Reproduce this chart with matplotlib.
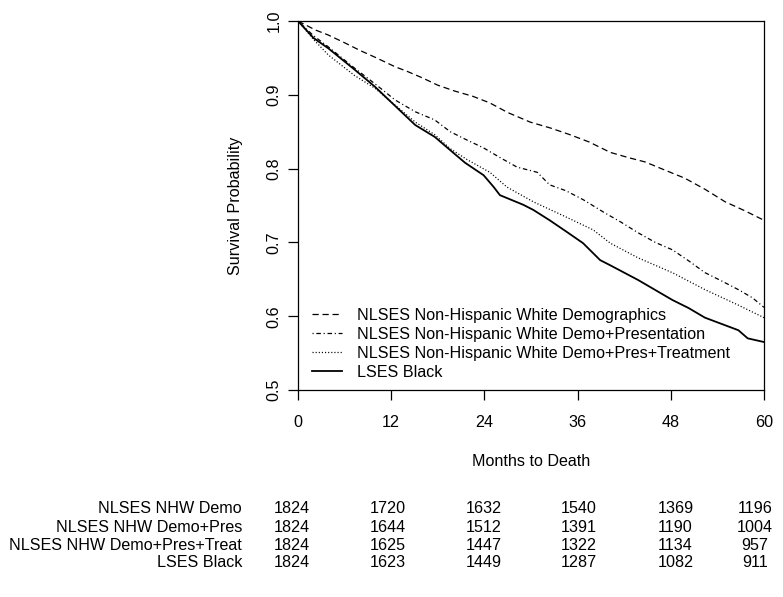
import numpy as np
import matplotlib
matplotlib.use("Agg")
import matplotlib.pyplot as plt

plt.rcParams['font.family'] = ['Liberation Sans', 'DejaVu Sans']

# survival curves (months, probability)
t_demo = [0, 2.2, 3.9, 6.1, 8, 9.9, 12.5, 14, 16, 18, 20.2, 22.5, 24.7, 27, 29.9,
          32.5, 35, 37.5, 40.2, 42.5, 44.7, 47, 49.8, 52.4, 55, 57.5, 60]
s_demo = [1.0, 0.988, 0.981, 0.970, 0.960, 0.951, 0.938, 0.932, 0.923, 0.913, 0.905,
          0.898, 0.889, 0.876, 0.863, 0.855, 0.846, 0.836, 0.822, 0.815, 0.809, 0.799,
          0.787, 0.772, 0.755, 0.743, 0.730]

t_pres = [0, 2, 3.9, 7.3, 9.9, 12.5, 15.1, 17.6, 19.6, 21.5, 23.9, 26, 28.2, 30.8,
          32.4, 34.5, 36.7, 39.5, 41.5, 43.8, 46, 48.2, 50.3, 52.4, 54.5, 56.7, 58.5, 60]
s_pres = [1.0, 0.980, 0.965, 0.936, 0.915, 0.893, 0.877, 0.866, 0.850, 0.840, 0.828,
          0.815, 0.802, 0.795, 0.778, 0.770, 0.758, 0.740, 0.728, 0.713, 0.700, 0.690,
          0.675, 0.659, 0.648, 0.636, 0.625, 0.612]

t_treat = [0, 2, 3.9, 7.3, 9.9, 12.5, 15.1, 17.6, 19.6, 21.8, 24.7, 26.9, 30.3, 34.6,
           38, 40.2, 43.8, 48.2, 52.4, 56.7, 60]
s_treat = [1.0, 0.975, 0.954, 0.926, 0.909, 0.886, 0.863, 0.846, 0.827, 0.812, 0.795,
           0.775, 0.755, 0.734, 0.717, 0.699, 0.679, 0.659, 0.636, 0.615, 0.598]

t_black = [0, 2, 3.9, 7.3, 9.9, 12.5, 15.1, 17.6, 19.6, 21.5, 23.9, 25.2, 26, 29, 30.3,
           32.4, 34.5, 36.7, 38.9, 40.2, 43.8, 48.2, 50.3, 52.4, 56.7, 57.9, 60]
s_black = [1.0, 0.977, 0.963, 0.934, 0.911, 0.885, 0.859, 0.843, 0.825, 0.808, 0.791,
           0.775, 0.764, 0.751, 0.744, 0.730, 0.715, 0.699, 0.676, 0.669, 0.649, 0.622,
           0.611, 0.598, 0.581, 0.570, 0.565]

legend_labels = ['NLSES Non-Hispanic White Demographics',
                 'NLSES Non-Hispanic White Demo+Presentation',
                 'NLSES Non-Hispanic White Demo+Pres+Treatment',
                 'LSES Black']

# numbers at risk
risk_rows = ['NLSES NHW Demo', 'NLSES NHW Demo+Pres',
             'NLSES NHW Demo+Pres+Treat', 'LSES Black']
risk_demo = [1824, 1720, 1632, 1540, 1369, 1196]
risk_pres = [1824, 1644, 1512, 1391, 1190, 1004]
risk_treat = [1824, 1625, 1447, 1322, 1134, 957]
risk_black = [1824, 1623, 1449, 1287, 1082, 911]

xticks = [0, 12, 24, 36, 48, 60]
yticks = [0.5, 0.6, 0.7, 0.8, 0.9, 1.0]

W, H = 783, 597
fig = plt.figure(figsize=(W / 100, H / 100), dpi=100)
ax = fig.add_axes([298 / W, 1 - 390 / H, 466 / W, 369 / H])

fs = 11.6
ax.plot(t_demo, s_demo, color='black', lw=0.9, dashes=(5, 3), label=legend_labels[0])
ax.plot(t_pres, s_pres, color='black', lw=0.9, dashes=(0.9, 2.2, 3.6, 2.2), label=legend_labels[1])
ax.plot(t_treat, s_treat, color='black', lw=0.9, dashes=(0.9, 1.6), label=legend_labels[2])
ax.plot(t_black, s_black, color='black', lw=1.3, label=legend_labels[3])

ax.set_xlim(0, 60)
ax.set_ylim(0.5, 1.0)
ax.set_xticks(xticks)
ax.set_yticks(yticks)
ax.set_xticklabels([str(v) for v in xticks], fontsize=fs)
ax.set_yticklabels(['%.1f' % v for v in yticks], fontsize=fs, rotation=90, va='center')
ax.tick_params(axis='x', length=7.2, width=0.9, pad=11)
ax.tick_params(axis='y', length=7.2, width=0.9, pad=4.8)
for sp in ax.spines.values():
    sp.set_linewidth(0.9)

ax.set_xlabel('Months to Death', fontsize=fs)
ax.xaxis.set_label_coords(0.5, -0.174)
ax.set_ylabel('Survival Probability', fontsize=fs)
ax.yaxis.set_label_coords(-0.117, 0.5)

ax.legend(loc='lower left', bbox_to_anchor=(0.030, 0.027), frameon=False,
          fontsize=fs, borderpad=0, borderaxespad=0, handlelength=1.86,
          handletextpad=0.93, labelspacing=0.25)

# numbers-at-risk table
col_x = [291.5, 387.5, 483.5, 579, 675.5, 755]
row_base = [513, 531.5, 549.5, 567]
for name, vals, yb in zip(risk_rows, [risk_demo, risk_pres, risk_treat, risk_black], row_base):
    fig.text(242 / W, 1 - yb / H, name, ha='right', va='baseline', fontsize=fs)
    for cx, v in zip(col_x, vals):
        fig.text(cx / W, 1 - yb / H, str(v), ha='center', va='baseline', fontsize=fs)

fig.savefig('out.png', dpi=100)
